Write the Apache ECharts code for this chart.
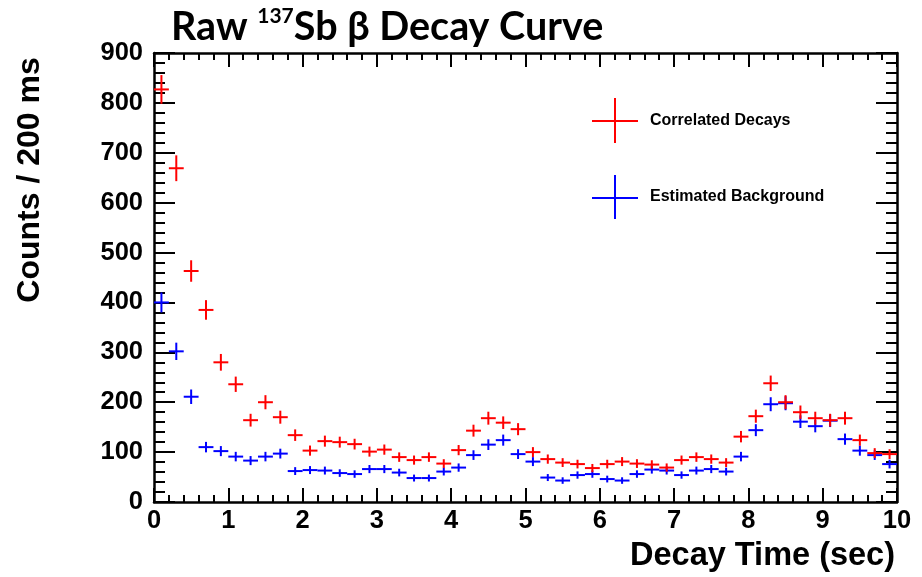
<!DOCTYPE html>
<html>
<head>
<meta charset="utf-8">
<script src="https://cdn.jsdelivr.net/npm/echarts@6/dist/echarts.min.js"></script>
<style>html,body{margin:0;padding:0;background:#fff;}#c{width:922px;height:577px;}</style>
</head>
<body>
<div id="c"></div>
<script>
// Bin centers (sec), bin width 0.2 s
var binCenters = [0.1,0.3,0.5,0.7,0.9,1.1,1.3,1.5,1.7,1.9,2.1,2.3,2.5,2.7,2.9,3.1,3.3,3.5,3.7,3.9,
  4.1,4.3,4.5,4.7,4.9,5.1,5.3,5.5,5.7,5.9,6.1,6.3,6.5,6.7,6.9,7.1,7.3,7.5,7.7,7.9,
  8.1,8.3,8.5,8.7,8.9,9.1,9.3,9.5,9.7,9.9];
var binHalfWidth = 0.1;
var correlated = [827,669,463,385,280,236,164,200,170,134,103,122,120,116,101,105,90,84,90,77,
  104,143,168,159,146,100,86,79,76,68,76,81,77,75,69,84,90,86,79,131,
  172,238,200,180,168,164,168,124,98,96];
var background = [400,302,211,110,102,91,83,91,97,62,64,63,58,56,66,66,59,48,48,61,
  69,94,115,124,96,81,49,43,54,56,46,43,56,65,63,54,63,66,61,91,
  144,196,198,161,152,163,126,103,94,76];
var yTicks = {min:0, max:900, interval:100};
var xTicks = {min:0, max:10, interval:1};

function makeData(vals){
  return vals.map(function(v,i){ return [binCenters[i], v, Math.sqrt(v)]; });
}
function errRender(color){
  return function(params, api){
    var x = api.value(0), y = api.value(1), e = api.value(2);
    var l = api.coord([x-binHalfWidth, y]), r = api.coord([x+binHalfWidth, y]);
    var t = api.coord([x, y+e]), b = api.coord([x, y-e]);
    var st = {stroke: color, lineWidth: 2};
    return {type:'group', children:[
      {type:'line', shape:{x1:l[0],y1:l[1],x2:r[0],y2:r[1]}, style:st},
      {type:'line', shape:{x1:t[0],y1:t[1],x2:b[0],y2:b[1]}, style:st}
    ]};
  };
}

var labelFont = {fontFamily:'Liberation Sans', fontWeight:'bold', fontSize:25.5, color:'#000'};
var axisLine = {show:true, onZero:false, lineStyle:{color:'#000', width:2.5}};
function xAx(pos, showLabel){
  return {type:'value', position:pos, min:xTicks.min, max:xTicks.max, interval:xTicks.interval,
    axisLine:axisLine, splitLine:{show:false},
    axisTick:{show:true, inside:true, length:14, lineStyle:{color:'#000', width:2}},
    minorTick:{show:true, splitNumber:5, length:7, lineStyle:{color:'#000', width:2}},
    axisLabel:Object.assign({show:showLabel, margin:6}, labelFont)};
}
function yAx(pos, showLabel){
  return {type:'value', position:pos, min:yTicks.min, max:yTicks.max, interval:yTicks.interval,
    axisLine:axisLine, splitLine:{show:false},
    axisTick:{show:true, inside:true, length:21, lineStyle:{color:'#000', width:2}},
    minorTick:{show:true, splitNumber:5, length:11, lineStyle:{color:'#000', width:2}},
    axisLabel:Object.assign({show:showLabel, margin:11}, labelFont)};
}

var chart = echarts.init(document.getElementById('c'), null, {renderer:'canvas'});
chart.setOption({
  animation:false,
  backgroundColor:'#fff',
  title:{
    text:'{a|Raw }{s|137}{a|Sb β Decay Curve}',
    left:166, top:1,
    textStyle:{
      rich:{
        a:{fontFamily:'Lato', fontWeight:'bold', fontSize:39.5, color:'#000', lineHeight:42},
        s:{fontFamily:'Lato', fontWeight:'bold', fontSize:21, color:'#000', lineHeight:22, verticalAlign:'top'}
      }
    }
  },
  grid:{left:154, right:25, top:53, bottom:75, containLabel:false},
  xAxis:[xAx('bottom', true), xAx('top', false)],
  yAxis:[yAx('left', true), yAx('right', false)],
  series:[
    {name:'Estimated Background', type:'custom', renderItem:errRender('#0000ff'),
      data:makeData(background), encode:{x:0, y:1}, clip:false, z:3},
    {name:'Correlated Decays', type:'custom', renderItem:errRender('#ff0000'),
      data:makeData(correlated), encode:{x:0, y:1}, clip:false, z:4}
  ],
  graphic:[
    {type:'text', x:30, y:180, rotation:Math.PI/2, style:{text:'Counts / 200 ms', fontFamily:'Liberation Sans', fontWeight:'bold', fontSize:32, fill:'#000', align:'center', verticalAlign:'middle'}},
    {type:'text', x:895, y:556, style:{text:'Decay Time (sec)', fontFamily:'Liberation Sans', fontWeight:'bold', fontSize:32.5, fill:'#000', align:'right', verticalAlign:'middle'}},
    {type:'line', shape:{x1:592,y1:121,x2:638,y2:121}, style:{stroke:'#ff0000', lineWidth:2}},
    {type:'line', shape:{x1:615,y1:98,x2:615,y2:143}, style:{stroke:'#ff0000', lineWidth:2}},
    {type:'text', x:650, y:121, style:{text:'Correlated Decays', fontFamily:'Liberation Sans', fontWeight:'bold', fontSize:16, fill:'#000', align:'left', verticalAlign:'middle'}},
    {type:'line', shape:{x1:592,y1:198,x2:638,y2:198}, style:{stroke:'#0000ff', lineWidth:2}},
    {type:'line', shape:{x1:615,y1:175,x2:615,y2:219}, style:{stroke:'#0000ff', lineWidth:2}},
    {type:'text', x:650, y:197, style:{text:'Estimated Background', fontFamily:'Liberation Sans', fontWeight:'bold', fontSize:16, fill:'#000', align:'left', verticalAlign:'middle'}}
  ]
});
</script>
</body>
</html>
